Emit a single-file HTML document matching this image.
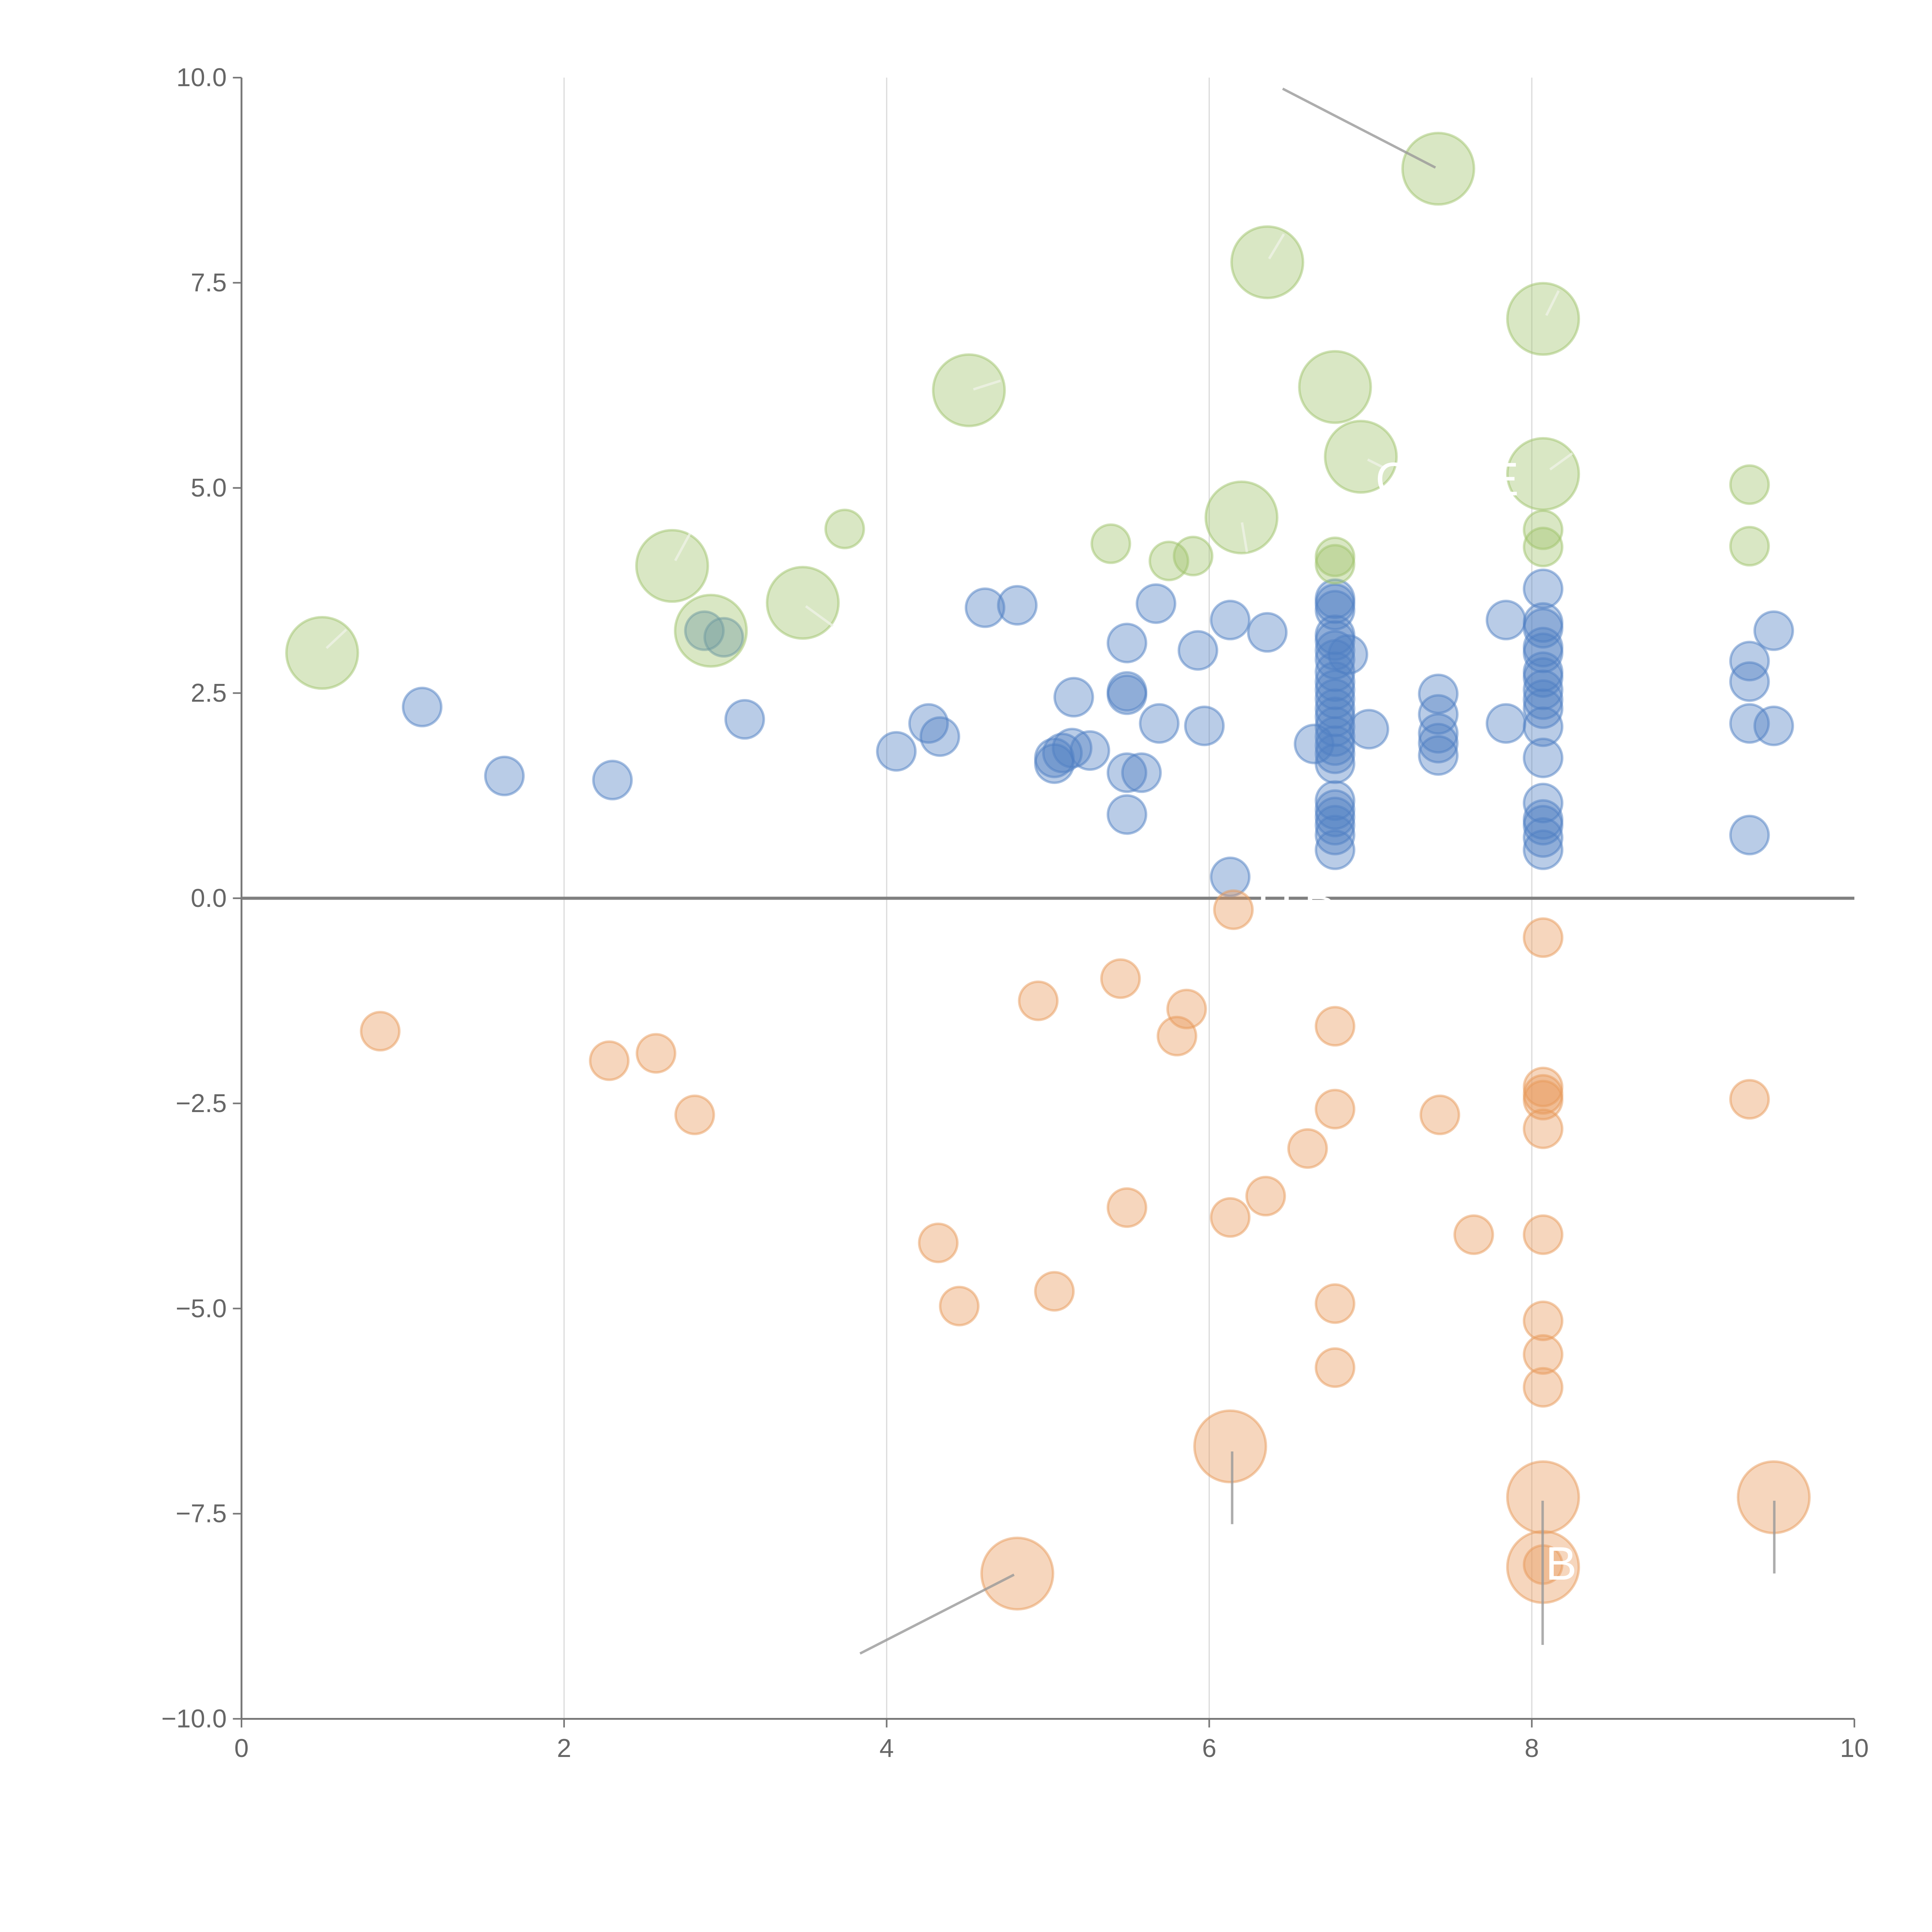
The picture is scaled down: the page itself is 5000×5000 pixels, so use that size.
<!DOCTYPE html>
<html><head><meta charset="utf-8"><style>html,body{margin:0;padding:0;background:#fff}svg{display:block}</style></head>
<body>
<svg id="chart" width="5000" height="5000" viewBox="0 0 1568 1568" xmlns="http://www.w3.org/2000/svg" font-family="Liberation Sans, sans-serif">
<g id="grid"></g>
<g id="axes"></g>
<g id="marks"></g>
<g id="notes"></g>
</svg>
<script>
const xTicks=[0,2,4,6,8,10];
const yTicks=[-10,-7.5,-5,-2.5,0,2.5,5,7.5,10];
const greenX=[0.5,2.67,2.91,3.48,3.74,4.51,5.39,5.75,5.9,6.2,6.36,6.78,6.94,6.78,6.78,7.42,8.07,8.07,8.07,8.07,9.35,9.35];
const greenY=[2.99,4.05,3.26,3.6,4.5,6.19,4.32,4.11,4.17,4.64,7.75,6.23,5.38,4.16,4.07,8.89,7.06,5.17,4.49,4.28,5.04,4.29];
const greenS=[2,2,2,2,1,2,1,1,1,2,2,2,2,1,1,2,2,2,1,1,1,1];
const blueX=[1.12,1.63,2.3,2.87,2.99,3.12,4.06,4.26,4.33,4.61,4.81,5.04,5.04,5.09,5.15,5.16,5.26,5.49,5.49,5.49,5.49,5.49,5.58,5.67,5.69,5.93,5.97,6.13,6.13,6.36,6.65,
6.78,6.78,6.78,6.78,6.78,6.78,6.78,6.78,6.78,6.78,6.78,6.78,6.78,6.78,6.78,6.78,6.78,6.78,6.78,6.78,6.78,6.78,6.78,6.78,6.86,6.99,
7.42,7.42,7.42,7.42,7.42,7.84,7.84,
8.07,8.07,8.07,8.07,8.07,8.07,8.07,8.07,8.07,8.07,8.07,8.07,8.07,8.07,8.07,8.07,8.07,
9.35,9.35,9.35,9.35,9.5,9.5];
const blueY=[2.33,1.49,1.44,3.26,3.18,2.18,1.79,2.13,1.97,3.54,3.57,1.71,1.64,1.77,1.83,2.45,1.8,3.11,2.52,2.48,1.53,1.02,1.53,3.59,2.13,3.02,2.1,3.39,0.26,3.24,1.88,
3.65,3.59,3.51,3.21,3.14,3.02,2.91,2.76,2.64,2.54,2.43,2.31,2.21,2.09,1.97,1.86,1.76,1.64,1.19,1.08,0.99,0.89,0.77,0.59,2.97,2.06,
2.49,2.24,2.01,1.89,1.74,3.39,2.13,
3.77,3.36,3.29,3.06,2.99,2.76,2.69,2.54,2.42,2.31,2.09,1.71,1.16,0.96,0.89,0.74,0.59,
2.89,2.64,2.13,0.77,3.26,2.1];
const orangeX=[0.86,2.28,2.57,2.81,4.32,4.45,4.94,5.04,5.45,5.49,5.8,5.86,6.13,6.15,6.35,6.61,6.78,6.78,6.78,6.78,7.43,7.64,8.07,8.07,8.07,8.07,8.07,8.07,8.07,8.07,8.07,8.07,9.35,4.81,6.13,8.07,8.07,9.5];
const orangeY=[-1.62,-1.98,-1.89,-2.64,-4.2,-4.97,-1.25,-4.79,-0.98,-3.77,-1.68,-1.35,-3.89,-0.14,-3.63,-3.05,-1.56,-2.57,-4.94,-5.72,-2.64,-4.1,-0.48,-2.3,-2.39,-2.46,-2.81,-4.1,-5.15,-5.56,-5.96,-8.12,-2.45,-8.23,-6.68,-7.3,-8.15,-7.3];
const orangeS=[1,1,1,1,1,1,1,1,1,1,1,1,1,1,1,1,1,1,1,1,1,1,1,1,1,1,1,1,1,1,1,1,1,2,2,2,2,2];

const NS='http://www.w3.org/2000/svg';
const X0=196,X1=1505,YT=63,YB=1395;
function sx(v){return X0+(v-0)/(10-0)*(X1-X0);}
function sy(v){return YB-(v+10)/20*(YB-YT);}
function rad(s){return s===2?29:15.5;}
function mk(tag,attrs,parent){const e=document.createElementNS(NS,tag);for(const k in attrs)e.setAttribute(k,attrs[k]);parent.appendChild(e);return e;}
const grid=document.getElementById('grid'),axes=document.getElementById('axes'),marks=document.getElementById('marks'),notes=document.getElementById('notes');
xTicks.forEach(t=>{
  if(t>0&&t<10){const g=mk('line',{x1:sx(t),x2:sx(t),y1:YT,y2:YB,stroke:'#dcdcdc','stroke-width':1},grid);
  
  }
  const tk=mk('line',{x1:sx(t),x2:sx(t),y1:YB,y2:YB+7,stroke:'#777','stroke-width':1.3},axes);
  
  
  const tx=mk('text',{x:sx(t),y:YB+31,'text-anchor':'middle','font-size':21,fill:'#666'},axes);
  tx.textContent=String(t);
  
  
});
yTicks.forEach(t=>{
  const tk=mk('line',{x1:X0-7,x2:X0,y1:sy(t),y2:sy(t),stroke:'#777','stroke-width':1.3},axes);
  
  
  const tx=mk('text',{x:X0-12,y:sy(t)+7,'text-anchor':'end','font-size':21,fill:'#666'},axes);
  tx.textContent=(t<0?'\u2212':'')+Math.abs(t).toFixed(1);
  
  
});
const xa=mk('line',{x1:X0,x2:X1,y1:YB,y2:YB,stroke:'#777','stroke-width':1.5},axes);


const ya=mk('line',{x1:X0,x2:X0,y1:YT,y2:YB,stroke:'#777','stroke-width':1.5},axes);



function series(xs,ys,ss,fill,stroke,name){
  xs.forEach((x,i)=>{
    const c=mk('circle',{cx:sx(x),cy:sy(ys[i]),r:rad(ss?ss[i]:1),fill:fill,'fill-opacity':0.4,stroke:stroke,'stroke-opacity':0.5,'stroke-width':2},marks);
    
    
  });
}
series(blueX,blueY,null,'#4f7fc4','#4f7fc4','blue-bubble');
series(greenX,greenY,greenS,'#a0c36c','#a0c36c','green-bubble');
const zl=mk('line',{x1:X0,x2:X1,y1:sy(0),y2:sy(0),stroke:'#808080','stroke-width':2.5},axes);


marks.parentNode.appendChild(axes);
marks.parentNode.appendChild(marks);
marks.parentNode.appendChild(notes);
series(orangeX,orangeY,orangeS,'#e8995a','#e8995a','orange-bubble');

const lines=[[1041,72,1165,136,'#999'],[698,1342,823,1278,'#999'],[1000,1178,1000,1237,'#999'],[1252,1218,1252,1335,'#999'],[1440,1218,1440,1277,'#999'],
[265,526,281,511,'#eef3e6'],[548,455,560,433,'#eef3e6'],[654,492,676,508,'#eef3e6'],[790,316,812,309,'#eef3e6'],[1008,424,1012,448,'#eef3e6'],[1030,210,1042,190,'#eef3e6'],[1110,373,1124,380,'#eef3e6'],[1255,256,1265,236,'#eef3e6'],[1258,381,1276,368,'#eef3e6']];
lines.forEach(l=>{
  const e=mk('line',{x1:l[0],y1:l[1],x2:l[2],y2:l[3],stroke:l[4],'stroke-width':2,'stroke-opacity':0.8},notes);
  
  
});
const labels=[['C',1130,402],['E',1220,402],['B',1267,1282],['D B',1052,742],['A',686,541]];
labels.forEach(l=>{
  const t=mk('text',{x:l[1],y:l[2],'text-anchor':'middle','font-size':38,fill:'#fff'},notes);
  t.textContent=l[0];
  
  
});
</script>
</body></html>
